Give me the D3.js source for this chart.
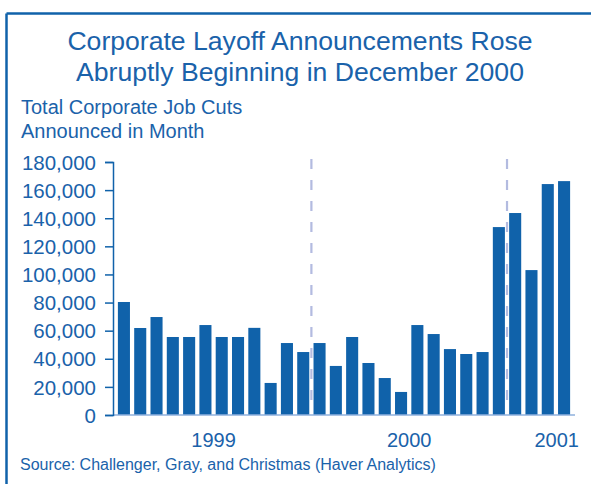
<!DOCTYPE html>
<html>
<head>
<meta charset="utf-8">
<script src="https://cdn.jsdelivr.net/npm/d3@7"></script>
<style>
  html, body { margin: 0; padding: 0; background: #fff; }
  svg { display: block; }
  text { font-family: "Liberation Sans", Arial, Helvetica, sans-serif; fill: #1a62aa; }
  .tick text { font-size: 20.5px; }
</style>
</head>
<body>
<svg id="chart" width="591" height="484"></svg>
<script>
// Monthly corporate job-cut announcements, Jan 1999 – Apr 2001
const months = [
  "1999-01","1999-02","1999-03","1999-04","1999-05","1999-06",
  "1999-07","1999-08","1999-09","1999-10","1999-11","1999-12",
  "2000-01","2000-02","2000-03","2000-04","2000-05","2000-06",
  "2000-07","2000-08","2000-09","2000-10","2000-11","2000-12",
  "2001-01","2001-02","2001-03","2001-04"
];
const jobCuts = [
  80400, 61900, 69700, 55500, 55500, 64000,
  55500, 55500, 62000, 22800, 51200, 44800,
  51200, 34900, 55500, 37000, 26300, 16400,
  64000, 57600, 46900, 43400, 44800, 133700,
  143700, 103100, 164300, 166400
];
const yTicks = [0, 20000, 40000, 60000, 80000, 100000, 120000, 140000, 160000, 180000];
const years = ["1999", "2000", "2001"];
const titleLines = ["Corporate Layoff Announcements Rose", "Abruptly Beginning in December 2000"];
const unitLines = ["Total Corporate Job Cuts", "Announced in Month"];
const sourceText = "Source: Challenger, Gray, and Christmas (Haver Analytics)";

const svg = d3.select("#chart");
const blue = "#1062aa";
const ink = "#1a62aa";

// open frame: top and left rules
svg.append("line").attr("x1", 6.5).attr("x2", 591).attr("y1", 13.5).attr("y2", 13.5)
  .attr("stroke", blue).attr("stroke-width", 2.5);
svg.append("line").attr("x1", 6.5).attr("x2", 6.5).attr("y1", 13.5).attr("y2", 484)
  .attr("stroke", blue).attr("stroke-width", 2.5);

// title
svg.append("g").selectAll("text").data(titleLines).join("text")
  .attr("x", 300).attr("y", (d, i) => 50 + i * 31)
  .attr("text-anchor", "middle")
  .style("font-size", "26.6px")
  .text(d => d);

// unit label
svg.append("g").selectAll("text").data(unitLines).join("text")
  .attr("x", 21).attr("y", (d, i) => 114 + i * 23.5)
  .style("font-size", "20px")
  .text(d => d);

const x = d3.scaleBand().domain(months).range([113, 575])
  .paddingInner(0.26).paddingOuter(0.3);
const y = d3.scaleLinear().domain([0, 180000]).range([415, 162]);

// dashed dividers at the year boundaries
const boundaries = ["1999-12", "2000-12"];
svg.append("g").selectAll("line").data(boundaries).join("line")
  .attr("x1", d => x(d) + x.bandwidth() + x.step() * x.paddingInner() / 2)
  .attr("x2", d => x(d) + x.bandwidth() + x.step() * x.paddingInner() / 2)
  .attr("y1", 159).attr("y2", 405)
  .attr("stroke", "#b3bbe0").attr("stroke-width", 2.2)
  .attr("stroke-dasharray", "10,11");

// bars
svg.append("g").selectAll("rect").data(months).join("rect")
  .attr("x", d => x(d))
  .attr("width", x.bandwidth())
  .attr("y", (d, i) => y(jobCuts[i]))
  .attr("height", (d, i) => y(0) - y(jobCuts[i]))
  .attr("fill", blue);

// baseline
svg.append("line").attr("x1", 113).attr("x2", 575).attr("y1", 415).attr("y2", 415)
  .attr("stroke", "#8fb0dc").attr("stroke-width", 1.5);

// y axis
const yAxis = d3.axisLeft(y).tickValues(yTicks).tickSize(8).tickPadding(9)
  .tickFormat(d3.format(","));
const ga = svg.append("g").attr("transform", "translate(113,0)")
  .attr("font-size", 20.5).call(yAxis);
ga.select(".domain").attr("stroke", blue).attr("stroke-width", 1.5);
ga.selectAll(".tick line").attr("stroke", blue).attr("stroke-width", 1.5);
ga.selectAll(".tick text").attr("fill", ink).attr("dy", "0.35em");

// year labels
const yearCenter = yr => {
  const ms = months.filter(m => m.startsWith(yr));
  return (x(ms[0]) + x(ms[ms.length - 1]) + x.bandwidth()) / 2;
};
svg.append("g").selectAll("text").data(years).join("text")
  .attr("x", d => d === "2001" ? x.range()[1] + 4 : yearCenter(d))
  .attr("y", 447)
  .attr("text-anchor", d => d === "2001" ? "end" : "middle")
  .style("font-size", "20px")
  .text(d => d);

// source note
svg.append("text").attr("x", 20).attr("y", 470)
  .style("font-size", "16px")
  .text(sourceText);
</script>
</body>
</html>
